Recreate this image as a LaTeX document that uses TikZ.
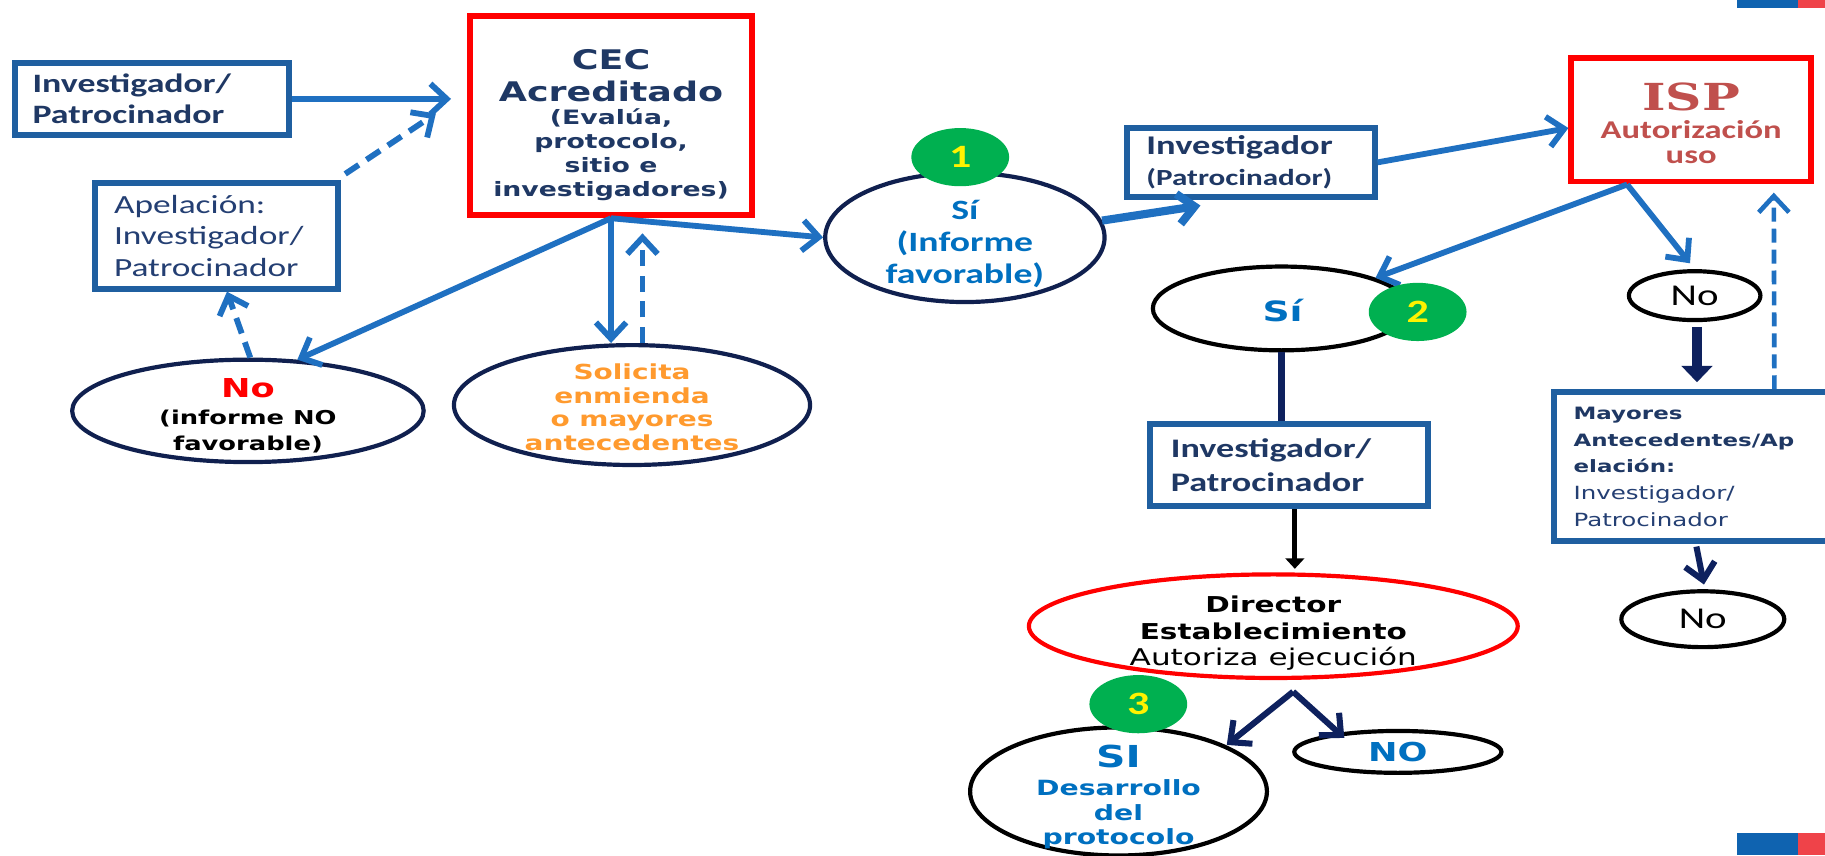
\documentclass[tikz,border=0pt]{standalone}
\usepackage{fontspec}
\usetikzlibrary{shapes.geometric,arrows.meta,calc}
\newfontfamily\calfont[FakeStretch=1.35]{Carlito}
\newfontfamily\verfont[FakeStretch=1.35]{DejaVu Sans}
\newfontfamily\serfont[FakeStretch=1.35]{DejaVu Serif}
\definecolor{boxblue}{HTML}{1F5FA0}
\definecolor{arrblue}{HTML}{1F70C1}
\definecolor{navytext}{HTML}{1F3864}
\definecolor{apeltext}{HTML}{243F73}
\definecolor{navyline}{HTML}{10204F}
\definecolor{navyarr}{HTML}{0E215E}
\definecolor{orangeT}{HTML}{FF9A2E}
\definecolor{siblue}{HTML}{0070C0}
\definecolor{ispred}{HTML}{C0504D}
\definecolor{sgreen}{HTML}{00B050}
\definecolor{decoblue}{HTML}{0F63B0}
\definecolor{decored}{HTML}{EF4349}
\tikzset{
 bx/.style={rectangle, draw=boxblue, line width=2.6pt, inner ysep=0pt, align=left},
 rbx/.style={rectangle, draw=red, line width=2.5pt, inner sep=0pt},
 ell/.style={ellipse, line width=1.8pt, inner sep=0pt},
 txt/.style={align=center, inner sep=0pt},
 gdot/.style={ellipse, fill=sgreen, inner sep=-20pt, text=yellow, minimum width=42pt, minimum height=25pt, font=\calfont\bfseries\fontsize{14}{16}\selectfont},
 arr/.style={draw=arrblue, line width=2.5pt, -{Straight Barb[length=7pt,width=13pt]}},
 darr/.style={arr, dash pattern=on 7pt off 4pt},
 narr/.style={draw=navyarr, line width=2.6pt, -{Straight Barb[length=7pt,width=13pt]}},
 thickarr/.style={draw=navyarr, line width=4.5pt, -{Triangle[length=7pt,width=13pt]}},
 barr/.style={draw=black, line width=2.2pt, -{Triangle[length=4.5pt,width=8pt]}},
}
\begin{document}
\begin{tikzpicture}[x=0.5pt,y=-0.5pt]
\clip (0,0) rectangle (1568,735);
\fill[white] (0,0) rectangle (1568,735);
% decorations
\fill[decoblue] (1492,0) rectangle (1545,7);
\fill[decored] (1545,0) rectangle (1568,7);
\fill[decoblue] (1492,716) rectangle (1545,735);
\fill[decored] (1545,716) rectangle (1568,735);

% boxes
\node[bx, minimum width=117.5pt, minimum height=31pt, inner xsep=7.5pt, text width=102.5pt, text=navytext, font=\calfont\bfseries\fontsize{11.4}{13.5}\selectfont] (A) at (130.5,85) {Investigador/\\Patrocinador};
\node[rbx, minimum width=121pt, minimum height=85.5pt] (CEC) at (525,99.5) {};
\node[txt, text=navytext, font=\verfont\bfseries\fontsize{11.6}{13.5}\selectfont] (CECt) at (525,65) {CEC\\Acreditado};
\node[txt, text=navytext, font=\verfont\bfseries\fontsize{8.5}{10.4}\selectfont] (CECs) at (525,133) {(Evalúa,\\protocolo,\\sitio e\\investigadores)};
\node[bx, minimum width=104pt, minimum height=45.5pt, inner xsep=8pt, text width=88pt, text=apeltext, font=\calfont\fontsize{11.25}{13.6}\selectfont] (Apel) at (186,202.5) {Apelación:\\Investigador/\\Patrocinador};
\node[bx, minimum width=106.5pt, minimum height=29.5pt, inner xsep=8.5pt, text width=89.5pt, text=navytext, font=\calfont\bfseries\fontsize{11.6}{13}\selectfont] (Inv2) at (1074.5,139.5) {Investigador\\{\fontsize{9.9}{13}\selectfont(Patrocinador)}};
\node[rbx, minimum width=103pt, minimum height=53pt] (ISP) at (1453,103) {};
\node[txt, text=ispred, font=\calfont\bfseries\fontsize{11}{10.5}\selectfont] (ISPt) at (1453,106) {{\serfont\bfseries\fontsize{16}{18}\selectfont ISP}\\[1.5pt]Autorización\\uso};
\node[bx, minimum width=132.5pt, minimum height=64pt, inner xsep=8.5pt, text width=115.5pt, font=\verfont\fontsize{7.8}{11.5}\selectfont] (May) at (1467.5,401) {{\color{navytext}\bfseries\fontsize{7.3}{11.5}\selectfont Mayores}\\{\color{navytext}\bfseries\fontsize{7.3}{11.5}\selectfont Antecedentes/Ap}\\{\color{navytext}\bfseries\fontsize{7.3}{11.5}\selectfont elación:}\\{\color{apeltext}Investigador/}\\{\color{apeltext}Patrocinador}};
\node[bx, minimum width=119.5pt, minimum height=35.5pt, inner xsep=9pt, text width=101.5pt, text=navytext, font=\calfont\bfseries\fontsize{11.5}{14.5}\selectfont] (Inv3) at (1107.5,399.5) {Investigador/\\Patrocinador};

% ellipses
\node[ell, draw=navyline, minimum width=151pt, minimum height=44pt] (NoE) at (213,353) {};
\node[txt, font=\verfont\bfseries\fontsize{8.2}{11}\selectfont] (NoEt) at ($(NoE)+(0,4)$) {{\color{red}\fontsize{11.2}{13}\selectfont No}\\[1pt](informe NO\\favorable)};
\node[ell, draw=navyline, minimum width=153pt, minimum height=51.5pt] (SolE) at (543,348) {};
\node[txt, text=orangeT, font=\verfont\bfseries\fontsize{8.9}{10.15}\selectfont] (SolEt) at ($(SolE)+(0,2)$) {Solicita\\enmienda\\o mayores\\antecedentes};
\node[ell, draw=navyline, minimum width=120pt, minimum height=55.5pt] (Si1) at (829,204) {};
\node[txt, text=siblue, font=\calfont\bfseries\fontsize{12}{13.75}\selectfont] (Si1t) at ($(Si1)+(0,6)$) {Sí\\(Informe\\favorable)};
\node[ell, draw=black, minimum width=110.5pt, minimum height=36pt] (Si2) at (1101,265) {};
\node[txt, text=siblue, font=\verfont\bfseries\fontsize{12}{14}\selectfont] (Si2t) at ($(Si2)+(1,2)$) {Sí};
\node[ell, draw=black, minimum width=56.5pt, minimum height=21pt] (NoS) at (1456,254) {};
\node[txt, font=\calfont\fontsize{13}{15}\selectfont] (NoSt) at (NoS) {No};
\node[ell, draw=black, minimum width=70pt, minimum height=24pt] (NoB) at (1463,532) {};
\node[txt, font=\calfont\fontsize{13}{15}\selectfont] (NoBt) at (NoB) {No};
\node[ell, draw=red, minimum width=210pt, minimum height=44.5pt] (Dir) at (1094,538) {};
\node[txt, font=\verfont\fontsize{9.9}{11.5}\selectfont] (Dirt) at ($(Dir)+(0,6)$) {{\bfseries\fontsize{9.4}{11.5}\selectfont Director}\\{\bfseries\fontsize{9.4}{11.5}\selectfont Establecimiento}\\Autoriza ejecución};
\node[ell, draw=black, minimum width=127.5pt, minimum height=55pt] (SI) at (961,680) {};
\node[txt, text=siblue, font=\verfont\bfseries\fontsize{9}{10.5}\selectfont] (SIt) at ($(SI)+(0,5)$) {{\fontsize{13}{15}\selectfont SI}\\[1.5pt]Desarrollo\\del\\protocolo};
\node[ell, draw=black, minimum width=89pt, minimum height=18pt] (NO) at (1201,646) {};
\node[txt, text=siblue, font=\verfont\bfseries\fontsize{11.2}{13}\selectfont] (NOt) at (NO) {NO};

% connectors
\draw[arr, shorten >=7pt] (A.east) -- (A.east -| CEC.west);
\draw[darr] ($(Apel.north east)+(4,-5)$) -- ($(CEC.west)+(-27,-2)$);
\draw[arr] (CEC.south) -- (NoE.46);
\draw[arr] (CEC.south) -- (CEC.south |- SolE.north);
\draw[darr] ($(SolE.north)+(9,0)$) -- ($(CEC.south)+(27,13)$);
\draw[arr] (CEC.south) -- (Si1.west);
\draw[darr] ($(NoE.north)+(2,0)$) -- ($(Apel.south)+(9,0)$);
\draw[arr, line width=3.5pt] (Si1.7) -- ($(Inv2.south west)+(66,5)$);
\draw[arr] (Inv2.east) -- ($(ISP.west)+(0,7)$);
\draw[arr] ($(ISP.south)+(-55,0)$) -- (Si2.18);
\draw[arr] ($(ISP.south)+(-55,0)$) -- ($(NoS.north)+(-4,-5)$);
\draw[thickarr] ($(NoS.south)+(2,4)$) -- ($(NoS.south |- May.north)+(2,-6)$);
\draw[darr, line width=2pt, dash pattern=on 6pt off 3pt] ($(May.north)+(57,0)$) -- ($(ISP.south)+(71,7)$);
\draw[draw=navyarr, line width=2.6pt] (Si2.south) -- (Si2.south |- Inv3.north);
\draw[barr] ($(Inv3.south)+(5,0)$) -- ($(Inv3.south |- Dir.north)+(5,-3)$);
\coordinate (split) at ($(Dir.south)+(17,10)$);
\draw[narr] (split) -- ($(SI.center)+(93,-40)$);
\draw[narr] (split) -- ($(NO.center)+(-46,-12)$);
\draw[narr] ($(May.south)+(-10,2)$) -- ($(NoB.north)+(1,-4)$);

% numbered markers
\node[gdot] (g1) at (825,135) {1};
\node[gdot] (g2) at (1218,268) {2};
\node[gdot] (g3) at (978,605) {3};
\end{tikzpicture}
\end{document}
